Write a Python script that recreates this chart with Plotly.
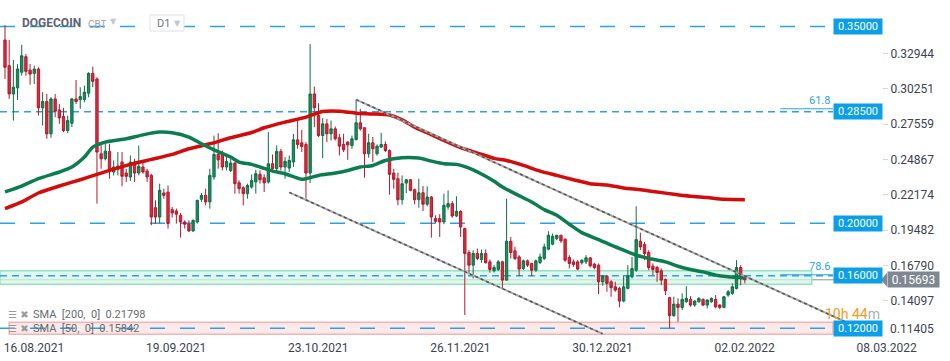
import numpy as np
import pandas as pd
import plotly.graph_objects as go

# ---------------- data ----------------
start_date = "2021-08-16"
end_date = "2022-02-09"

opens = [0.3397,0.3201,0.2986,0.3032,0.3151,0.3270,0.3168,0.3143,0.3176,0.2880,
         0.2928,0.2682,0.2948,0.2864,0.2814,0.2707,0.2763,0.2948,0.2943,0.2943,
         0.2991,0.3143,0.3100,0.2530,0.2492,0.2548,0.2391,0.2411,0.2467,0.2383,
         0.2353,0.2467,0.2383,0.2429,0.2398,0.2365,0.2119,0.2048,0.2231,0.2238,
         0.2104,0.2094,0.2061,0.2010,0.1993,0.1942,0.2010,0.2183,0.2213,0.2163,
         0.2353,0.2525,0.2530,0.2429,0.2403,0.2459,0.2309,0.2271,0.2226,0.2276,
         0.2315,0.2373,0.2347,0.2315,0.2454,0.2416,0.2548,0.2429,0.2421,0.2467,
         0.2636,0.2614,0.2601,0.2383,0.2986,0.2821,0.2669,0.2758,0.2682,0.2720,
         0.2652,0.2601,0.2619,0.2593,0.2639,0.2766,0.2728,0.2530,0.2614,0.2530,
         0.2581,0.2601,0.2555,0.2383,0.2340,0.2180,0.2307,0.2332,0.2256,0.2180,
         0.2233,0.2145,0.2200,0.2036,0.2036,0.2010,0.2124,0.2150,0.2056,0.2091,
         0.1960,0.1777,0.1681,0.1770,0.1724,0.1770,0.1706,0.1638,0.1648,0.1706,
         0.1567,0.1863,0.1790,0.1744,0.1656,0.1714,0.1694,0.1643,0.1701,0.1732,
         0.1803,0.1841,0.1884,0.1909,0.1879,0.1739,0.1706,0.1706,0.1699,0.1706,
         0.1737,0.1689,0.1681,0.1554,0.1597,0.1554,0.1516,0.1504,0.1407,0.1504,
         0.1592,0.1643,0.1863,0.1838,0.1777,0.1673,0.1663,0.1638,0.1572,0.1433,
         0.1296,0.1384,0.1359,0.1402,0.1420,0.1377,0.1402,0.1420,0.1377,0.1402,
         0.1420,0.1377,0.1359,0.1453,0.1466,0.1504,0.1663,0.1592]

highs = [0.3510,0.3397,0.3245,0.3214,0.3361,0.3290,0.3214,0.3201,0.3189,0.2999,
         0.2986,0.2961,0.2986,0.2910,0.2880,0.2821,0.2956,0.3092,0.3037,0.3049,
         0.3151,0.3194,0.3113,0.2606,0.2606,0.2606,0.2479,0.2543,0.2543,0.2416,
         0.2517,0.2492,0.2593,0.2467,0.2416,0.2378,0.2175,0.2302,0.2264,0.2289,
         0.2124,0.2112,0.2079,0.2023,0.2023,0.2028,0.2180,0.2231,0.2264,0.2416,
         0.2669,0.2687,0.2555,0.2517,0.2492,0.2467,0.2327,0.2282,0.2302,0.2373,
         0.2408,0.2403,0.2373,0.2695,0.2525,0.2593,0.2568,0.2505,0.2517,0.2682,
         0.2796,0.2712,0.2619,0.3366,0.3042,0.2915,0.2801,0.2796,0.2783,0.2738,
         0.2682,0.2682,0.2626,0.2669,0.2943,0.2872,0.2733,0.2682,0.2657,0.2601,
         0.2690,0.2624,0.2563,0.2416,0.2386,0.2365,0.2337,0.2337,0.2264,0.2340,
         0.2284,0.2282,0.2208,0.2061,0.2069,0.2226,0.2251,0.2170,0.2206,0.2099,
         0.1967,0.1795,0.1795,0.1808,0.1800,0.1800,0.1724,0.1681,0.1719,0.1714,
         0.2188,0.1896,0.1820,0.1757,0.1724,0.1724,0.1699,0.1724,0.1770,0.1846,
         0.1940,0.1922,0.1909,0.1912,0.1884,0.1757,0.1724,0.1719,0.1724,0.1757,
         0.1739,0.1699,0.1694,0.1605,0.1605,0.1567,0.1554,0.1516,0.1605,0.1681,
         0.1744,0.2130,0.1929,0.1858,0.1795,0.1694,0.1676,0.1656,0.1580,0.1440,
         0.1440,0.1428,0.1466,0.1521,0.1445,0.1415,0.1435,0.1428,0.1420,0.1435,
         0.1453,0.1382,0.1445,0.1491,0.1542,0.1719,0.1681,0.1605]

lows = [0.3100,0.2948,0.2783,0.2940,0.3125,0.3125,0.3057,0.3062,0.2821,0.2745,
        0.2644,0.2652,0.2809,0.2758,0.2695,0.2687,0.2733,0.2910,0.2872,0.2923,
        0.2961,0.3037,0.2150,0.2416,0.2479,0.2340,0.2365,0.2365,0.2282,0.2315,
        0.2322,0.2315,0.2365,0.2378,0.2315,0.1985,0.1998,0.2003,0.2188,0.1960,
        0.2043,0.1998,0.1891,0.1960,0.1934,0.1934,0.1998,0.2163,0.2137,0.2112,
        0.2332,0.2416,0.2403,0.2403,0.2391,0.2226,0.2226,0.2137,0.2188,0.2264,
        0.2226,0.2302,0.2238,0.2302,0.2403,0.2383,0.2403,0.2340,0.2391,0.2429,
        0.2568,0.2543,0.2188,0.2307,0.2733,0.2657,0.2497,0.2619,0.2631,0.2631,
        0.2517,0.2543,0.2484,0.2568,0.2631,0.2707,0.2347,0.2500,0.2467,0.2517,
        0.2576,0.2543,0.2218,0.2264,0.2137,0.2142,0.2231,0.2244,0.2145,0.2119,
        0.2094,0.2130,0.1891,0.1998,0.1896,0.1993,0.2104,0.2043,0.2048,0.1896,
        0.1301,0.1618,0.1580,0.1719,0.1699,0.1694,0.1623,0.1625,0.1638,0.1504,
        0.1562,0.1732,0.1719,0.1597,0.1643,0.1668,0.1597,0.1630,0.1689,0.1719,
        0.1795,0.1833,0.1871,0.1851,0.1706,0.1656,0.1668,0.1643,0.1686,0.1689,
        0.1663,0.1648,0.1461,0.1524,0.1478,0.1440,0.1478,0.1359,0.1397,0.1496,
        0.1580,0.1630,0.1795,0.1719,0.1643,0.1605,0.1554,0.1529,0.1453,0.1200,
        0.1288,0.1250,0.1339,0.1395,0.1364,0.1364,0.1395,0.1369,0.1352,0.1395,
        0.1352,0.1344,0.1352,0.1440,0.1453,0.1496,0.1529,0.1542]

closes = [0.3189,0.2986,0.3037,0.3176,0.3277,0.3158,0.3138,0.3176,0.2880,0.2928,
          0.2682,0.2948,0.2854,0.2804,0.2707,0.2783,0.2948,0.2928,0.2966,0.2999,
          0.3143,0.3082,0.2543,0.2492,0.2550,0.2403,0.2429,0.2436,0.2358,0.2358,
          0.2467,0.2383,0.2434,0.2391,0.2353,0.2048,0.2048,0.2251,0.2213,0.1998,
          0.2079,0.2069,0.2010,0.1993,0.1942,0.2023,0.2175,0.2213,0.2163,0.2365,
          0.2525,0.2484,0.2429,0.2472,0.2459,0.2302,0.2264,0.2226,0.2289,0.2327,
          0.2378,0.2332,0.2309,0.2454,0.2416,0.2548,0.2429,0.2472,0.2479,0.2636,
          0.2601,0.2586,0.2383,0.2986,0.2880,0.2669,0.2758,0.2682,0.2720,0.2644,
          0.2588,0.2560,0.2598,0.2644,0.2766,0.2720,0.2530,0.2614,0.2568,0.2588,
          0.2601,0.2555,0.2373,0.2335,0.2180,0.2302,0.2332,0.2251,0.2180,0.2233,
          0.2145,0.2200,0.2048,0.2015,0.2010,0.2137,0.2150,0.2056,0.2091,0.1972,
          0.1770,0.1681,0.1770,0.1732,0.1770,0.1699,0.1648,0.1663,0.1706,0.1567,
          0.1863,0.1777,0.1732,0.1651,0.1714,0.1681,0.1643,0.1714,0.1744,0.1820,
          0.1909,0.1901,0.1909,0.1866,0.1719,0.1694,0.1686,0.1651,0.1719,0.1737,
          0.1676,0.1663,0.1554,0.1597,0.1542,0.1509,0.1491,0.1407,0.1516,0.1600,
          0.1656,0.1876,0.1820,0.1770,0.1663,0.1648,0.1625,0.1567,0.1486,0.1296,
          0.1384,0.1359,0.1420,0.1428,0.1377,0.1407,0.1428,0.1377,0.1415,0.1428,
          0.1364,0.1359,0.1440,0.1478,0.1516,0.1663,0.1580,0.15693]

# SMA curves, sampled along the chart (day offset from start, value)
sma200_day = [0,4,8,13,18,22,25,30,35,40,44,49,54,59,62,67,72,76,80,84,88,92,95,98,
              101,105,109,113,117,120,124,128,132,136,140,144,148,152,156,160,164,168,172,177]
sma200_val = [0.2112,0.2163,0.2231,0.2284,0.2332,0.2373,0.2403,0.2449,0.2487,0.2525,
              0.2568,0.2606,0.2652,0.2692,0.2728,0.2771,0.2809,0.2852,0.2854,0.2839,
              0.2834,0.2826,0.2788,0.2733,0.2690,0.2631,0.2576,0.2535,0.2495,0.2479,
              0.2441,0.2398,0.2365,0.2332,0.2302,0.2292,0.2269,0.2256,0.2239,0.2221,
              0.2206,0.2196,0.2183,0.2180]
sma50_day = [0,4,8,13,16,19,21,24,29,33,37,40,44,47,50,54,56,59,61,64,67,71,75,79,82,
             85,88,91,95,99,102,105,108,112,115,117,119,122,126,129,132,135,138,142,145,
             148,151,154,158,161,164,167,170,173,177]
sma50_val = [0.2239,0.2284,0.2340,0.2391,0.2429,0.2505,0.2581,0.2619,0.2644,0.2674,
             0.2695,0.2690,0.2657,0.2606,0.2560,0.2505,0.2467,0.2449,0.2429,0.2398,
             0.2378,0.2335,0.2365,0.2383,0.2403,0.2429,0.2441,0.2479,0.2500,0.2497,
             0.2474,0.2454,0.2449,0.2408,0.2358,0.2320,0.2277,0.2226,0.2163,0.2104,
             0.2061,0.1993,0.1929,0.1876,0.1833,0.1795,0.1757,0.1732,0.1706,0.1673,
             0.1648,0.1630,0.1605,0.1592,0.1584]

# trend channel (day offset, price)
upper_tl_day = [84, 201]
upper_tl_val = [0.2943, 0.1250]
lower_tl_day = [68, 143]
lower_tl_val = [0.2236, 0.1157]

levels = [0.35, 0.285, 0.20, 0.16, 0.12]
level_labels = ["0.35000", "0.28500", "0.20000", "0.16000", "0.12000"]
level_dash = ["15px,15px", "7px,5px", "15px,15px", "7px,5px", "15px,15px"]

fib_levels = [0.2873, 0.1608]
fib_labels = ["61.8", "78.6"]

green_zone = [0.1535, 0.1638]
red_zone = [0.1155, 0.1246]

price_ticks = [0.11405, 0.14097, 0.16790, 0.19482, 0.22174, 0.24867, 0.27559, 0.30251, 0.32944]
date_ticks = ["2021-08-16", "2021-09-19", "2021-10-23", "2021-11-26",
              "2021-12-30", "2022-02-02", "2022-03-08"]

last_price = 0.15693
sma200_last = 0.21798
sma50_last = 0.15842
symbol = "DOGECOIN"
countdown = ("10h 44", "m")

# ---------------- figure ----------------
W, H = 950, 361
ML, MR, MT, MB = 0, 68, 0, 24
PW, PH = W - ML - MR, H - MT - MB

base = pd.Timestamp(start_date)
def day(d):
    return base + pd.Timedelta(days=d)

dates = pd.date_range(start_date, end_date, freq="D")
x_range = [day(-1.196), day(209.81)]
y_range = [0.11334, 0.37020]
level_end = day(198.1)
zone_green_end = day(193)
zone_red_start, zone_red_end = day(1), day(198.1)

FONT = "Roboto, 'DejaVu Sans', sans-serif"
BLUE = "#2aa3e6"

fig = go.Figure()

fig.add_trace(go.Candlestick(
    x=dates, open=opens, high=highs, low=lows, close=closes,
    increasing=dict(line=dict(color="#0d6e45", width=1), fillcolor="#179062"),
    decreasing=dict(line=dict(color="#b3192b", width=1), fillcolor="#df2a3d"),
    whiskerwidth=0, hoverinfo="skip", showlegend=False))

fig.add_trace(go.Scatter(
    x=[day(d) for d in sma200_day], y=sma200_val, mode="lines",
    line=dict(color="#d30b0b", width=3.5, shape="spline", smoothing=0.6),
    hoverinfo="skip", showlegend=False))
fig.add_trace(go.Scatter(
    x=[day(d) for d in sma50_day], y=sma50_val, mode="lines",
    line=dict(color="#0b7d4f", width=3.5, shape="spline", smoothing=0.6),
    hoverinfo="skip", showlegend=False))

for tl_d, tl_v in ((upper_tl_day, upper_tl_val), (lower_tl_day, lower_tl_val)):
    xs = [day(d) for d in tl_d]
    fig.add_trace(go.Scatter(x=xs, y=tl_v, mode="lines",
                             line=dict(color="#a8a8a8", width=2),
                             hoverinfo="skip", showlegend=False))
    fig.add_trace(go.Scatter(x=xs, y=tl_v, mode="lines",
                             line=dict(color="#555555", width=1.5, dash="3px,3px"),
                             hoverinfo="skip", showlegend=False))

shapes = []
# zones
shapes.append(dict(type="rect", xref="x", yref="y", x0=x_range[0], x1=zone_green_end,
                   y0=green_zone[0], y1=green_zone[1], fillcolor="rgba(214,245,232,0.75)",
                   line=dict(color="#95e2c3", width=1.5), layer="below"))
shapes.append(dict(type="rect", xref="x", yref="y", x0=zone_red_start, x1=zone_red_end,
                   y0=red_zone[0], y1=red_zone[1], fillcolor="rgba(253,228,228,0.8)",
                   line=dict(color="#f5b3b3", width=1.5), layer="below"))
# current price line
shapes.append(dict(type="line", xref="paper", yref="y", x0=0, x1=1,
                   y0=last_price, y1=last_price, line=dict(color="#8a9096", width=1),
                   layer="below"))
# horizontal levels
for lv, dsh in zip(levels, level_dash):
    shapes.append(dict(type="line", xref="x", yref="y", x0=x_range[0], x1=level_end,
                       y0=lv, y1=lv, line=dict(color=BLUE, width=1.5, dash=dsh),
                       layer="below"))
# fibonacci short segments
for fv in fib_levels:
    shapes.append(dict(type="line", xref="x", yref="y", x0=day(185.5), x1=level_end,
                       y0=fv, y1=fv, line=dict(color=BLUE, width=1.2), layer="below"))

def px_x(p):
    return p / PW

def px_y(p):
    return 1 - p / PH

# current price tag arrow tip
half = 7 / PH * (y_range[1] - y_range[0])
shapes.append(dict(type="path", xref="paper", yref="y",
                   path=f"M {px_x(881)},{last_price} L {px_x(887)},{last_price + half} "
                        f"L {px_x(887)},{last_price - half} Z",
                   fillcolor="#7f8891", line=dict(width=0)))
# D1 box
shapes.append(dict(type="rect", xref="paper", yref="paper",
                   x0=px_x(150), x1=px_x(184), y0=px_y(31), y1=px_y(15),
                   fillcolor="white", line=dict(color="#dde0e4", width=1)))

annotations = []
for lv, lab in zip(levels, level_labels):
    annotations.append(dict(x=level_end, y=lv, xref="x", yref="y", text=lab,
                            showarrow=False, xanchor="left", yanchor="middle",
                            bgcolor="#0c9fe9", borderpad=2, width=44, height=11,
                            font=dict(family=FONT, size=11, color="white")))
for fv, fl in zip(fib_levels, fib_labels):
    annotations.append(dict(x=level_end, y=fv, xref="x", yref="y", text=fl,
                            showarrow=False, xanchor="right", yanchor="bottom",
                            xshift=-1, font=dict(family=FONT, size=11, color=BLUE)))
# current price tag
annotations.append(dict(x=1, y=last_price, xref="paper", yref="y", text=f"{last_price:.5f}",
                        showarrow=False, xanchor="left", yanchor="middle", xshift=5,
                        bgcolor="#7f8891", borderpad=2, width=47, height=11,
                        font=dict(family=FONT, size=12, color="white")))
# lowest price tick label kept clear of the date labels
annotations.append(dict(x=1, y=price_ticks[0], xref="paper", yref="y",
                        text=f"{price_ticks[0]:.5f}", showarrow=False, xanchor="left",
                        yanchor="middle", xshift=6, yshift=7,
                        font=dict(family=FONT, size=12, color="#3c4350")))
# title block
annotations += [
    dict(x=px_x(20), y=px_y(23), xref="paper", yref="paper", text=f"<b>{symbol}</b>",
         showarrow=False, xanchor="left", yanchor="middle",
         font=dict(family=FONT, size=12, color="#5b6470")),
    dict(x=px_x(86), y=px_y(24), xref="paper", yref="paper", text="CBT",
         showarrow=False, xanchor="left", yanchor="middle",
         font=dict(family=FONT, size=10, color="#9aa2ab")),
    dict(x=px_x(108), y=px_y(21), xref="paper", yref="paper", text="▼",
         showarrow=False, xanchor="left", yanchor="middle",
         font=dict(family="DejaVu Sans", size=8, color="#c3c7cc")),
    dict(x=px_x(155), y=px_y(23), xref="paper", yref="paper", text="D1",
         showarrow=False, xanchor="left", yanchor="middle",
         font=dict(family=FONT, size=11, color="#6f7882")),
    dict(x=px_x(172), y=px_y(23), xref="paper", yref="paper", text="▼",
         showarrow=False, xanchor="left", yanchor="middle",
         font=dict(family="DejaVu Sans", size=8, color="#c3c7cc")),
]
# SMA legend
for ypx, lab in ((314, f"SMA  [200,  0]  {sma200_last:.5f}"),
                 (328, f"SMA  [50,  0]  {sma50_last:.5f}")):
    annotations.append(dict(x=px_x(6), y=px_y(ypx), xref="paper", yref="paper",
                            text="☰ ✖", showarrow=False, xanchor="left", yanchor="middle",
                            font=dict(family="DejaVu Sans", size=10, color="#9a9a9a")))
    annotations.append(dict(x=px_x(31), y=px_y(ypx), xref="paper", yref="paper",
                            text=lab, showarrow=False, xanchor="left", yanchor="middle",
                            font=dict(family=FONT, size=11, color="#666b70")))
# countdown
annotations.append(dict(x=px_x(823), y=px_y(314), xref="paper", yref="paper",
                        text=f"<span style='color:#f39a1e'>{countdown[0]}</span>"
                             f"<span style='color:#a9aeb3'>{countdown[1]}</span>",
                        showarrow=False, xanchor="left", yanchor="middle",
                        font=dict(family=FONT, size=14)))

fig.update_layout(
    width=W, height=H, margin=dict(l=ML, r=MR, t=MT, b=MB),
    paper_bgcolor="white", plot_bgcolor="white",
    showlegend=False, boxgap=0.2,
    shapes=shapes, annotations=annotations,
    xaxis=dict(type="date", range=x_range, rangeslider=dict(visible=False),
               showgrid=False, zeroline=False, showline=False,
               tickvals=date_ticks,
               ticktext=[pd.Timestamp(d).strftime("%d.%m.%Y") for d in date_ticks],
               ticks="", ticklabelshift=29, ticklabelstandoff=2,
               tickfont=dict(family=FONT, size=12, color="#3c4350")),
    yaxis=dict(side="right", range=y_range, showgrid=False, zeroline=False,
               showline=False, tickvals=price_ticks[1:],
               ticktext=[f"{v:.5f}" for v in price_ticks[1:]],
               ticks="outside", ticklen=5, tickcolor="#d5d8db",
               tickfont=dict(family=FONT, size=12, color="#3c4350")),
)

fig.write_html("out.html",
               config={"displayModeBar": False, "staticPlot": True},
               post_script="document.body.style.margin='0';"
                           "document.body.style.overflow='hidden';")
